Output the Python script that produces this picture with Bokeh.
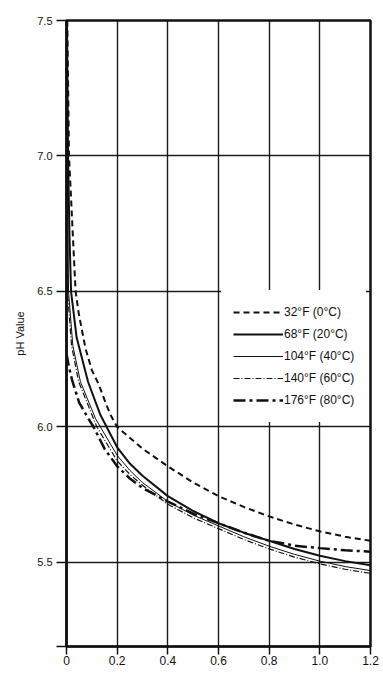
from bokeh.plotting import figure
from bokeh.models import FixedTicker, Legend, LegendItem, Range1d
from bokeh.embed import file_html
from bokeh.resources import INLINE

# ---- data ----
x_0C = [0.003, 0.010, 0.028, 0.036, 0.049, 0.075, 0.10, 0.126, 0.15, 0.174, 0.2, 0.3, 0.4, 0.5, 0.6, 0.7, 0.8, 0.9, 1.0, 1.1, 1.2]
ph_0C = [7.5, 7.0, 6.65, 6.5, 6.415, 6.29, 6.21, 6.16, 6.10, 6.044, 6.0, 5.92, 5.855, 5.795, 5.745, 5.705, 5.67, 5.64, 5.615, 5.595, 5.58]

x_20C = [0.002, 0.006, 0.012, 0.018, 0.04, 0.085, 0.134, 0.2, 0.25, 0.3, 0.4, 0.5, 0.6, 0.7, 0.8, 0.9, 1.0, 1.1, 1.2]
ph_20C = [7.5, 7.0, 6.7, 6.5, 6.33, 6.167, 6.044, 5.925, 5.865, 5.82, 5.745, 5.69, 5.645, 5.61, 5.58, 5.55, 5.525, 5.505, 5.49]

x_40C = [0.001, 0.004, 0.008, 0.025, 0.055, 0.115, 0.2, 0.25, 0.3, 0.4, 0.5, 0.6, 0.7, 0.8, 0.9, 1.0, 1.1, 1.2]
ph_40C = [7.5, 7.0, 6.5, 6.3, 6.167, 6.03, 5.895, 5.84, 5.795, 5.725, 5.675, 5.635, 5.595, 5.56, 5.53, 5.505, 5.485, 5.47]

x_60C = [0.0, 0.002, 0.004, 0.02, 0.048, 0.12, 0.2, 0.25, 0.3, 0.4, 0.5, 0.6, 0.7, 0.8, 0.9, 1.0, 1.1, 1.2]
ph_60C = [7.5, 7.0, 6.5, 6.3, 6.167, 6.0, 5.875, 5.825, 5.785, 5.715, 5.665, 5.625, 5.585, 5.55, 5.52, 5.495, 5.475, 5.46]

x_80C = [0.0, 0.01, 0.023, 0.05, 0.087, 0.107, 0.15, 0.2, 0.25, 0.3, 0.4, 0.5, 0.6, 0.7, 0.8, 0.86, 0.9, 1.0, 1.1, 1.2]
ph_80C = [6.27, 6.22, 6.17, 6.09, 6.03, 6.0, 5.92, 5.855, 5.81, 5.775, 5.725, 5.68, 5.645, 5.61, 5.58, 5.57, 5.562, 5.553, 5.545, 5.54]

series_labels = ["32\u00b0F (0\u00b0C)", "68\u00b0F (20\u00b0C)", "104\u00b0F (40\u00b0C)",
                 "140\u00b0F (60\u00b0C)", "176\u00b0F (80\u00b0C)"]

x_ticks = [0, 0.2, 0.4, 0.6, 0.8, 1.0, 1.2]
x_tick_labels = ["0", "0.2", "0.4", "0.6", "0.8", "1.0", "1.2"]
y_ticks = [5.5, 6.0, 6.5, 7.0, 7.5]
y_tick_labels = ["5.5", "6.0", "6.5", "7.0", "7.5"]
y_min, y_max = 5.19, 7.5
y_axis_title = "pH Value"

FONT = "Liberation Sans"
INK = "#111111"

p = figure(frame_width=304, frame_height=626,
           x_range=Range1d(0, 1.2), y_range=Range1d(y_min, y_max),
           output_backend="svg", toolbar_location=None,
           min_border_left=66, min_border_right=12,
           min_border_top=20, min_border_bottom=26,
           background_fill_color="white", border_fill_color="white")

p.outline_line_color = INK
p.outline_line_width = 2.5

# grid
p.xgrid.ticker = FixedTicker(ticks=x_ticks)
p.ygrid.ticker = FixedTicker(ticks=y_ticks)
for g in (p.xgrid, p.ygrid):
    g.grid_line_color = INK
    g.grid_line_width = 1.4
    g.grid_line_alpha = 0.95

# axes
xa = p.xaxis[0]
xa.ticker = FixedTicker(ticks=x_ticks)
xa.major_label_overrides = {t: l for t, l in zip(x_ticks, x_tick_labels)}
xa.major_tick_out = 8
xa.major_tick_in = 0
xa.minor_tick_out = 0
xa.minor_tick_in = 0
xa.major_label_standoff = 1
xa.major_label_text_font = FONT
xa.major_label_text_font_size = "12px"
xa.major_label_text_color = INK
xa.axis_line_width = 2
xa.axis_line_color = INK
xa.major_tick_line_width = 1.5
xa.major_tick_line_color = INK

ya = p.yaxis[0]
ya.ticker = FixedTicker(ticks=[y_min] + y_ticks)
ya.major_label_overrides = {t: l for t, l in zip([y_min] + y_ticks, [""] + y_tick_labels)}
ya.major_tick_out = 10
ya.major_tick_in = 0
ya.minor_tick_out = 0
ya.minor_tick_in = 0
ya.major_label_standoff = 4
ya.major_label_text_font = FONT
ya.major_label_text_font_size = "11px"
ya.major_label_text_color = INK
ya.axis_line_width = 2.5
ya.axis_line_color = INK
ya.major_tick_line_width = 1.5
ya.major_tick_line_color = INK
ya.axis_label = y_axis_title
ya.axis_label_text_font = FONT
ya.axis_label_text_font_size = "11px"
ya.axis_label_text_font_style = "normal"
ya.axis_label_text_color = INK
ya.axis_label_standoff = 8

# curves
r0 = p.line(x_0C, ph_0C, line_color=INK, line_width=2, line_dash="6 4")
r20 = p.line(x_20C, ph_20C, line_color=INK, line_width=2)
r40 = p.line(x_40C, ph_40C, line_color=INK, line_width=1)
r60 = p.line(x_60C, ph_60C, line_color=INK, line_width=1.2, line_dash="6 2 1 2")
r80 = p.line(x_80C, ph_80C, line_color=INK, line_width=2.5, line_dash="12 4 3 4")

legend = Legend(items=[LegendItem(label=l, renderers=[r]) for l, r in
                       zip(series_labels, [r0, r20, r40, r60, r80])],
                location=(155, 224))
legend.background_fill_color = "white"
legend.background_fill_alpha = 1.0
legend.border_line_alpha = 0
legend.glyph_width = 50
legend.glyph_height = 20
legend.label_height = 20
legend.label_width = 66
legend.spacing = 2
legend.padding = 12
legend.margin = 0
legend.label_standoff = 1
legend.label_text_font = FONT
legend.label_text_font_size = "12px"
legend.label_text_color = INK
p.add_layout(legend)

open("out.html", "w").write(file_html(p, INLINE))
